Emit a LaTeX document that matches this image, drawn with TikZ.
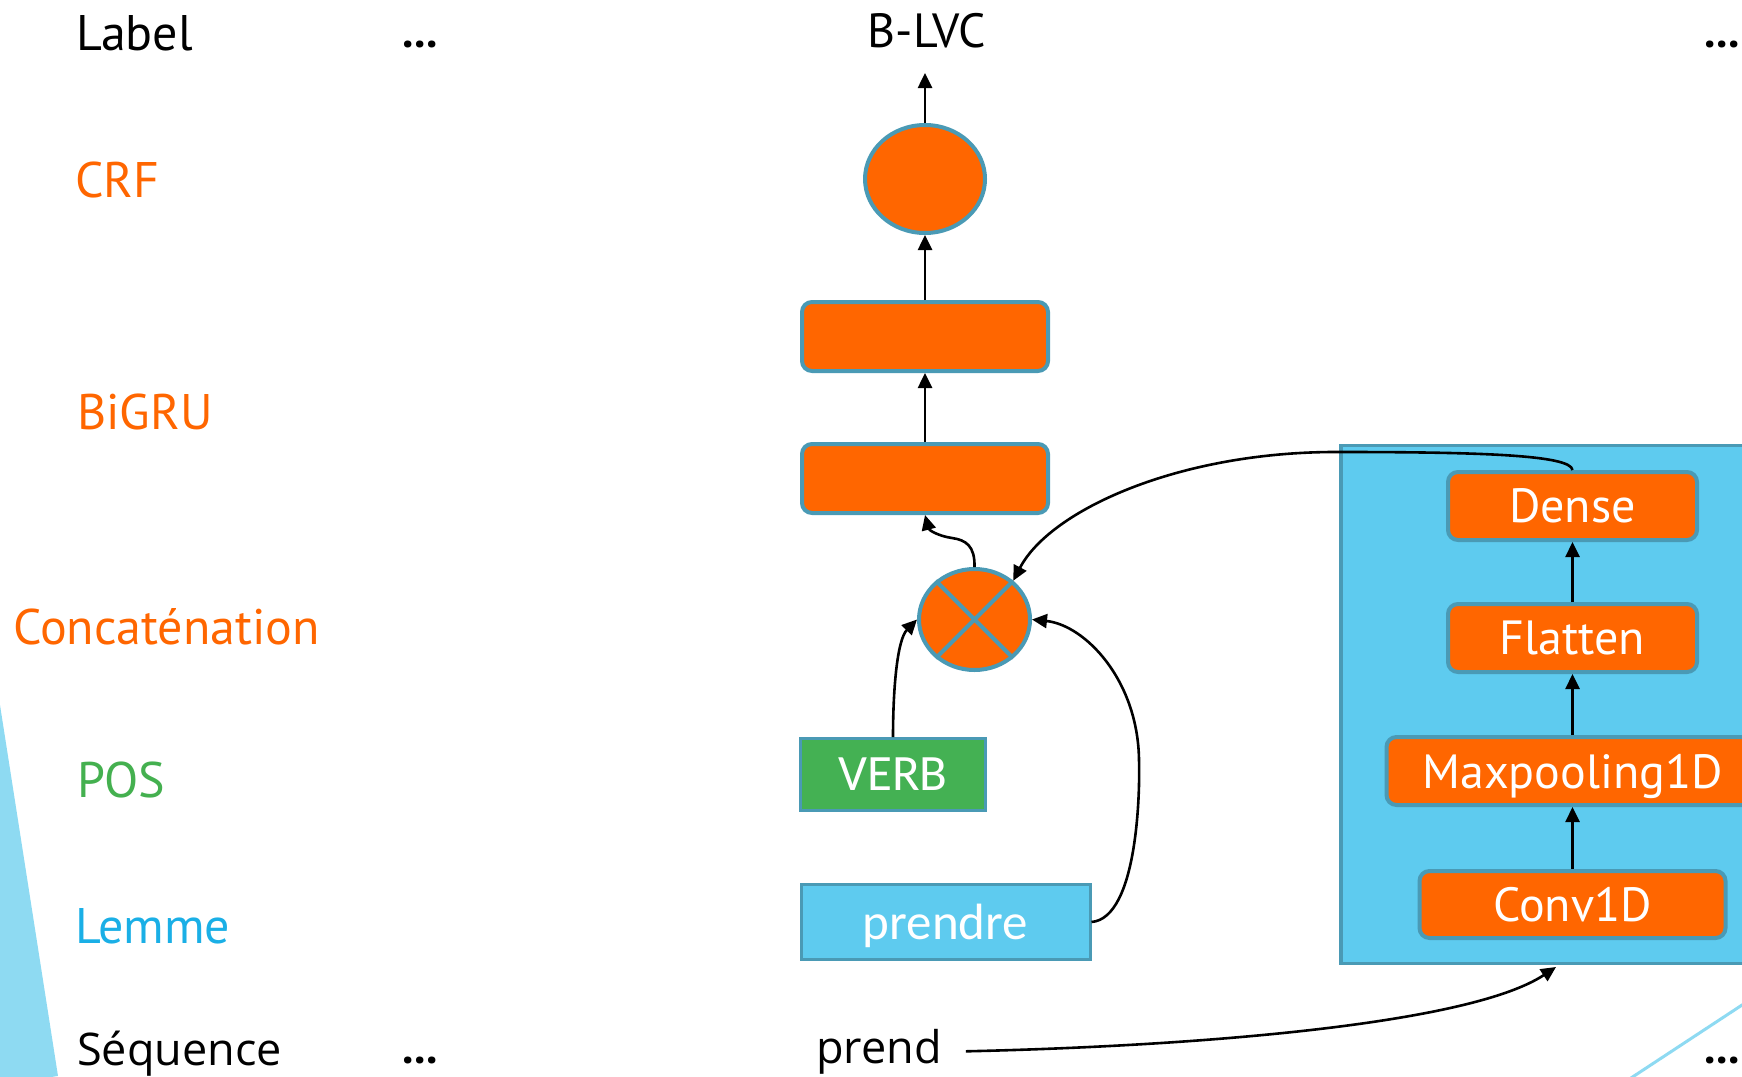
\documentclass[tikz,border=0pt]{standalone}
\usepackage{fontspec}
\setmainfont{PT Sans}
\newfontfamily\seqfont{Open Sans}
\newfontfamily\boxfont{Carlito}
\usetikzlibrary{arrows.meta,shapes.geometric}
\definecolor{orng}{HTML}{FF6600}
\definecolor{edge}{HTML}{4A9AB5}
\definecolor{skyfill}{HTML}{5ECBEF}
\definecolor{posgreen}{HTML}{44B153}
\definecolor{postext}{HTML}{44B04F}
\definecolor{lemtext}{HTML}{1AAFE6}
\definecolor{pale}{HTML}{8EDAF2}
\tikzset{
  layer/.style={draw=edge, line width=4pt, fill=orng, rounded corners=10pt,
    inner sep=0pt, text=white, text depth=0pt, font=\fontsize{48}{52}\selectfont},
  flatbox/.style={draw=edge, line width=3pt, inner sep=0pt, text=white, text depth=0pt,
    font=\boxfont\fontsize{51}{56}\selectfont},
  blob/.style={ellipse, draw=edge, line width=4pt, fill=orng, inner sep=0pt},
  lab/.style={anchor=base west, inner sep=0pt, font=\fontsize{50}{60}\selectfont},
  dots/.style={anchor=base west, inner sep=0pt, font=\bfseries\fontsize{46}{50}\selectfont},
  flow/.style={line width=2.6pt, -{Triangle[length=15pt,width=14pt]}},
}
\begin{document}
\begin{tikzpicture}[x=1pt,y=-1pt]
\useasboundingbox (0,0) rectangle (1742,1076);
\clip (0,0) rectangle (1742,1076);

% decorative background shapes
\fill[pale] (-10,705) -- (0,705) -- (58,1076) -- (-10,1086) -- cycle;
\draw[pale, line width=3pt] (1620,1085.2) -- (1760,993.2);

% row titles
\node[lab] (tlabel) at (76,50) {Label};
\node[lab, text=orng] (tcrf) at (75,197) {CRF};
\node[lab, text=orng] (tgru) at (77,429) {BiGRU};
\node[lab, text=orng] (tcat) at (13,644) {Concaténation};
\node[lab, text=postext] (tpos) at (77,797) {POS};
\node[lab, text=lemtext] (tlem) at (75,943) {Lemme};
\node[lab, font=\seqfont\fontsize{45}{50}\selectfont] (tseq) at (77,1065) {Séquence};

\node[dots] (d1) at (402,47) {...};
\node[dots] (d2) at (402,1063) {...};
\node[dots] (d3) at (1704,47) {...};
\node[dots] (d4) at (1704,1063) {...};

% output label
\node[anchor=base, inner sep=0pt, font=\fontsize{48}{52}\selectfont] (blvc) at (927,47) {B-LVC};
\coordinate (out) at (925,73);

% main column
\node[blob, minimum width=120pt, minimum height=108pt] (crf) at (925,179) {};
\node[layer, minimum width=246pt, minimum height=69pt] (g1) at (925,336.5) {};
\node[layer, minimum width=246pt, minimum height=69pt] (g2) at (925,478.5) {};
\node[blob, minimum width=111pt, minimum height=101pt] (cc) at (974.5,619.5) {};
\draw[edge, line width=4pt] (cc.45) -- (cc.225) (cc.135) -- (cc.315);

\node[flatbox, fill=posgreen, minimum width=185pt, minimum height=72pt] (verb) at (893,774.5) {VERB};
\node[flatbox, fill=skyfill, minimum width=289pt, minimum height=75pt] (lem) at (945.5,922) {prendre};
\node[anchor=base west, inner xsep=24pt, inner ysep=0pt,
      font=\seqfont\fontsize{45}{50}\selectfont] (prend) at (792,1063) {prend};

% character CNN block
\node[draw=edge, line width=3.5pt, fill=skyfill, minimum width=490pt, minimum height=518pt,
      inner sep=0pt] (cnn) at (1586,704.5) {};
\node[layer, minimum width=249pt, minimum height=68pt] (dense) at (1572.5,506) {Dense};
\node[layer, minimum width=249pt, minimum height=68pt] (flat) at (1572.5,638) {Flatten};
\node[layer, minimum width=372pt, minimum height=68pt] (maxp) at (1572.5,771) {Maxpooling1D};
\node[layer, minimum width=306pt, minimum height=67pt] (conv) at (1572.5,904.5) {Conv1D};
\coordinate (cnnin) at (1556,967);

% connectors
\draw[flow] (crf.north) -- (out);
\draw[flow] (g1.north) -- (crf.south);
\draw[flow] (g2.north) -- (g1.south);
\draw[flow] (cc.north) .. controls (975,546) and (966,540) .. (952,538)
                       .. controls (938,536) and (929,530) .. (g2.south);
\draw[flow] (verb.north) .. controls (893,690) and (897,640) .. (cc.west);
\draw[flow] (lem.east) .. controls (1138,918) and (1140,790) .. (1139,760)
                       .. controls (1138,680) and (1085,625) .. (cc.east);
\draw[flow] (dense.north) .. controls (1571,455) and (1480,452) .. (1340,452)
                          .. controls (1180,451) and (1050,510) .. (cc.45);
\draw[flow] (prend.east) .. controls (1200,1046) and (1470,1024) .. (cnnin);
\draw[flow] (conv.north) -- (maxp.south);
\draw[flow] (maxp.north) -- (flat.south);
\draw[flow] (flat.north) -- (dense.south);
\end{tikzpicture}
\end{document}
